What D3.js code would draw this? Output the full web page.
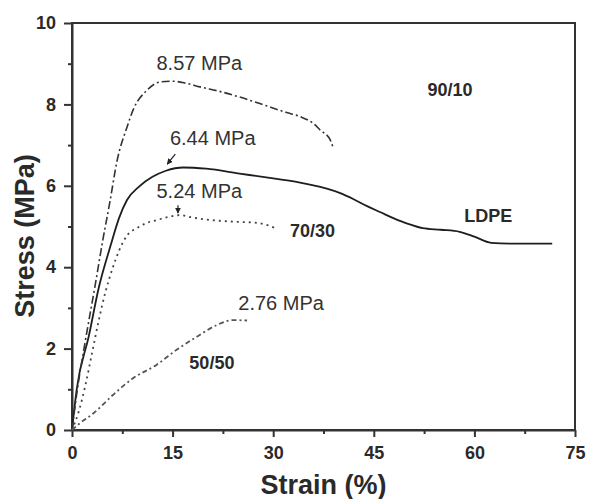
<!DOCTYPE html>
<html><head><meta charset="utf-8">
<script src="https://cdn.jsdelivr.net/npm/d3@7"></script>
<style>
html,body{margin:0;padding:0;background:#fff;}
svg{display:block;font-family:"Liberation Sans",Arial,Helvetica,sans-serif;}
</style></head>
<body><svg id="c" width="589" height="499"></svg>
<script>
// ---- data ----
const ldpeX = [0, 0.7, 2.5, 4, 5.7, 7, 8.2, 10, 12, 14, 16.6, 20, 25, 30, 34, 36, 38, 40, 42, 44, 46, 48, 50, 52.3, 55, 57.8, 60, 62.5, 66, 71.6];
const ldpeY = [0, 1.0, 2.3, 3.5, 4.5, 5.2, 5.65, 5.98, 6.22, 6.37, 6.45, 6.42, 6.3, 6.18, 6.08, 6.01, 5.93, 5.82, 5.67, 5.5, 5.35, 5.2, 5.07, 4.96, 4.92, 4.87, 4.75, 4.6, 4.58, 4.58];
const s9010X = [0, 0.8, 2, 3.5, 4.6, 5.7, 6.7, 8.2, 9.1, 11.2, 13.1, 15, 17, 19.1, 22, 25, 28, 32, 34, 36, 37, 38.5, 38.9];
const s9010Y = [0, 1.0, 2.2, 3.6, 4.67, 5.65, 6.6, 7.44, 7.86, 8.35, 8.55, 8.57, 8.52, 8.43, 8.32, 8.18, 8.02, 7.8, 7.7, 7.53, 7.37, 7.13, 6.95];
const s7030X = [0, 1, 2, 3, 4, 5, 6, 7, 8.3, 9.7, 11, 12.7, 14.5, 16.1, 18, 20.6, 24, 27.6, 30.5];
const s7030Y = [0, 0.45, 1.1, 1.9, 2.7, 3.4, 3.95, 4.4, 4.8, 4.96, 5.08, 5.16, 5.24, 5.28, 5.22, 5.16, 5.12, 5.09, 4.95];
const s5050X = [0, 1.2, 3.2, 6.1, 9.1, 12.6, 15.6, 18.6, 21.6, 24, 26.1];
const s5050Y = [0, 0.17, 0.41, 0.86, 1.27, 1.6, 1.97, 2.29, 2.58, 2.7, 2.69];
const xTicks = [0, 15, 30, 45, 60, 75];
const yTicks = [0, 2, 4, 6, 8, 10];
const seriesNames = ["LDPE", "90/10", "70/30", "50/50"];
const peakLabels = ["6.44 MPa", "8.57 MPa", "5.24 MPa", "2.76 MPa"];

// ---- layout ----
const svg = d3.select("#c");
const L = 72, R = 575, T = 23, B = 430;
const x = d3.scaleLinear().domain([0, 75]).range([L, R]);
const y = d3.scaleLinear().domain([0, 10]).range([B, T]);
const ink = "#2a2a2a";

// frame
svg.append("rect").attr("x", L).attr("y", T).attr("width", R - L).attr("height", B - T)
  .attr("fill", "none").attr("stroke", "#333").attr("stroke-width", 2);

// minor ticks
const xMinor = d3.range(7.5, 75, 15);
const yMinor = d3.range(1, 10, 2);
svg.append("g").attr("transform", `translate(0,${B})`)
  .call(d3.axisBottom(x).tickValues(xMinor).tickSize(4).tickFormat(""))
  .call(g => { g.select(".domain").remove(); g.selectAll("line").attr("stroke", "#333").attr("stroke-width", 2); });
svg.append("g").attr("transform", `translate(${L},0)`)
  .call(d3.axisLeft(y).tickValues(yMinor).tickSize(4).tickFormat(""))
  .call(g => { g.select(".domain").remove(); g.selectAll("line").attr("stroke", "#333").attr("stroke-width", 2); });

// major axes
const xa = svg.append("g").attr("transform", `translate(0,${B})`)
  .call(d3.axisBottom(x).tickValues(xTicks).tickSize(7).tickPadding(9).tickSizeOuter(0));
const ya = svg.append("g").attr("transform", `translate(${L},0)`)
  .call(d3.axisLeft(y).tickValues(yTicks).tickSize(8).tickPadding(8).tickSizeOuter(0));
[xa, ya].forEach(g => {
  g.select(".domain").attr("stroke", "#333").attr("stroke-width", 2);
  g.selectAll("line").attr("stroke", "#333").attr("stroke-width", 2);
  g.selectAll("text").attr("font-size", 18).attr("font-weight", "bold").attr("fill", ink)
    .attr("font-family", '"Liberation Sans",Arial,sans-serif');
});

// curves
const line = d3.line().x(d => x(d[0])).y(d => y(d[1])).curve(d3.curveMonotoneX);
const zip = (a, b) => a.map((v, i) => [v, b[i]]);
const series = [
  {pts: zip(ldpeX, ldpeY), dash: null, color: "#1e1e1e", w: 1.8},
  {pts: zip(s9010X, s9010Y), dash: "8,3,2,3", color: "#333", w: 1.6},
  {pts: zip(s7030X, s7030Y), dash: "2,4", color: "#444", w: 1.8},
  {pts: zip(s5050X, s5050Y), dash: "5,3,2,3", color: "#555", w: 1.8}
];
series.forEach(s => {
  svg.append("path").attr("d", line(s.pts)).attr("fill", "none")
    .attr("stroke", s.color).attr("stroke-width", s.w)
    .attr("stroke-dasharray", s.dash);
});

// series labels
const nameAt = [[58.5, 5.1], [53, 8.2], [32.5, 4.75], [17.5, 1.5]];
seriesNames.forEach((n, i) => {
  svg.append("text").attr("x", x(nameAt[i][0])).attr("y", y(nameAt[i][1]))
    .attr("font-size", 18).attr("font-weight", "bold").attr("fill", ink).text(n);
});

// peak value labels
const peakAt = [[14.6, 7.0], [12.6, 8.85], [12.6, 5.7], [24.8, 2.95]];
peakLabels.forEach((t, i) => {
  svg.append("text").attr("x", x(peakAt[i][0])).attr("y", y(peakAt[i][1]))
    .attr("font-size", 20).attr("fill", "#333").text(t);
});

// arrows
svg.append("defs").append("marker").attr("id", "ah").attr("viewBox", "0 0 10 10")
  .attr("refX", 9).attr("refY", 5).attr("markerWidth", 6).attr("markerHeight", 6)
  .attr("orient", "auto-start-reverse").attr("markerUnits", "userSpaceOnUse")
  .append("path").attr("d", "M0,0L10,5L0,10Z").attr("fill", "#222");
svg.append("line").attr("x1", x(15.4)).attr("y1", y(6.78)).attr("x2", x(14.2)).attr("y2", y(6.53))
  .attr("stroke", "#222").attr("stroke-width", 1.2).attr("marker-end", "url(#ah)");
svg.append("line").attr("x1", x(15.8)).attr("y1", y(5.52)).attr("x2", x(15.8)).attr("y2", y(5.33))
  .attr("stroke", "#222").attr("stroke-width", 1.2).attr("marker-end", "url(#ah)");

// axis titles
svg.append("text").attr("x", (L + R) / 2).attr("y", 494).attr("text-anchor", "middle")
  .attr("font-size", 27).attr("font-weight", "bold").attr("fill", ink).text("Strain (%)");
svg.append("text").attr("transform", "translate(34,236) rotate(-90)").attr("text-anchor", "middle")
  .attr("font-size", 27).attr("font-weight", "bold").attr("fill", ink).text("Stress (MPa)");
</script></body></html>
